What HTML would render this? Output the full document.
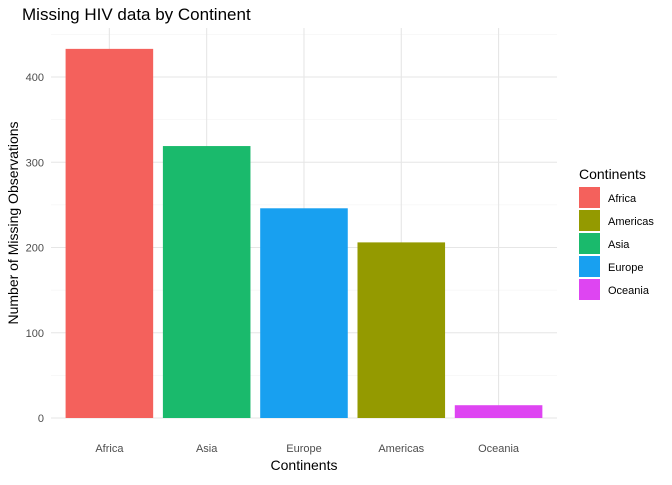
<!DOCTYPE html>
<html><head><meta charset="utf-8"><style>
body{margin:0;background:#fff;font-family:"Liberation Sans",Arial,sans-serif;}
svg text{font-family:"Liberation Sans",Arial,sans-serif;}
</style></head><body>
<svg id="chart" width="672" height="480" xmlns="http://www.w3.org/2000/svg">
<text x="22" y="20" font-size="17" fill="#000">Missing HIV data by Continent</text>
<g id="grid"></g><g id="bars"></g><g id="axes"></g>
<text x="304" y="470" font-size="14" text-anchor="middle" fill="#000">Continents</text>
<text transform="translate(18,223) rotate(-90)" font-size="14" text-anchor="middle" fill="#000">Number of Missing Observations</text>
<g id="legend"></g>
</svg>
<script>
const categories=["Africa","Asia","Europe","Americas","Oceania"];
const values=[433,319,246,206,15];
const colors=["#F4615C","#1ABA6C","#18A0F0","#949A00","#DE45F2"];
const yTicks=[0,100,200,300,400];
const legendLabels=["Africa","Americas","Asia","Europe","Oceania"];
const legendColors=["#F4615C","#949A00","#1ABA6C","#18A0F0","#DE45F2"];
const NS="http://www.w3.org/2000/svg";
const px0=51,px1=557,py0=418,pyTop=28,band=97.3;
const y=v=>py0-v*0.8525;
const x=i=>px0+band*(0.6+i);
function mk(t,a,p){const e=document.createElementNS(NS,t);for(const k in a)e.setAttribute(k,a[k]);p.appendChild(e);return e;}
const grid=document.getElementById('grid'),bars=document.getElementById('bars'),axes=document.getElementById('axes'),leg=document.getElementById('legend');
for(let v=50;v<=450;v+=100){if(y(v)<pyTop)break;const l=mk('line',{x1:px0,x2:px1,y1:y(v),y2:y(v),stroke:'#f0f0f0','stroke-width':0.6},grid);

}
yTicks.forEach(v=>{const l=mk('line',{x1:px0,x2:px1,y1:y(v),y2:y(v),stroke:'#e6e6e6','stroke-width':1.1},grid);


const t=mk('text',{x:44,y:y(v)+4,'font-size':11,'text-anchor':'end',fill:'#4d4d4d'},axes);t.textContent=v;

});
categories.forEach((c,i)=>{const l=mk('line',{x1:x(i),x2:x(i),y1:pyTop,y2:py0,stroke:'#e6e6e6','stroke-width':1.1},grid);


const r=mk('rect',{x:x(i)-band*0.45,width:band*0.9,y:y(values[i]),height:py0-y(values[i]),fill:colors[i]},bars);


const t=mk('text',{x:x(i),y:452,'font-size':11,'text-anchor':'middle',fill:'#4d4d4d'},axes);t.textContent=c;

});
const lt=mk('text',{x:579,y:179,'font-size':14,fill:'#000'},leg);lt.textContent='Continents';


legendLabels.forEach((c,i)=>{const yy=187+i*23;
const r=mk('rect',{x:579,y:yy,width:21,height:21,fill:legendColors[i]},leg);


const t=mk('text',{x:608,y:yy+15,'font-size':11,fill:'#000'},leg);t.textContent=c;

});
</script>
</body></html>
